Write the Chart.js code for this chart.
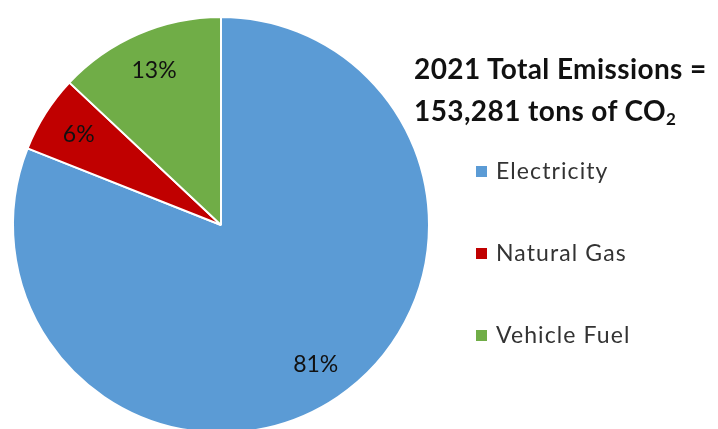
<!DOCTYPE html>
<html>
<head>
<meta charset="utf-8">
<script src="https://cdn.jsdelivr.net/npm/chart.js@4/dist/chart.umd.min.js"></script>
<style>
  html, body { margin: 0; padding: 0; background: #fff; overflow: hidden; }
  #wrap { position: relative; width: 718px; height: 429px; overflow: hidden; }
  #emissionsChart { position: absolute; left: 0; top: 0; }
  .title { position: absolute; left: 414px; top: 47px; font-family: Lato, sans-serif; font-weight: bold;
           font-size: 28px; line-height: 42px; letter-spacing: 0.4px; color: #111; white-space: nowrap; }
  .title sub { font-size: 17px; vertical-align: -4px; line-height: 0; }
  .legend { position: absolute; left: 476px; font-family: Lato, sans-serif; font-size: 23px; letter-spacing: 1.1px;
            color: #333; white-space: nowrap; }
  .legend span.box { display: inline-block; width: 11px; height: 11px; margin-right: 9px; vertical-align: 2px; }
</style>
</head>
<body>
<div id="wrap">
  <canvas id="emissionsChart" width="718" height="440"></canvas>
  <div class="title">2021 Total Emissions =<br>153,281 tons of CO<sub>2</sub></div>
</div>
<script>
// Share of 2021 emissions by source (percent)
const sources = ['Electricity', 'Natural Gas', 'Vehicle Fuel'];
const shares = [81, 6, 13];
const colors = ['#5B9BD5', '#C00000', '#70AD47'];
const legendY = [171, 253, 335];

// Percentage labels drawn inside each slice
const sliceLabels = {
  id: 'sliceLabels',
  afterDatasetsDraw(chart) {
    const { ctx } = chart;
    const meta = chart.getDatasetMeta(0);
    ctx.save();
    ctx.font = '23px Lato, sans-serif';
    ctx.fillStyle = '#111';
    ctx.textAlign = 'center';
    ctx.textBaseline = 'middle';
    meta.data.forEach((arc, i) => {
      const mid = (arc.startAngle + arc.endAngle) / 2;
      const r = arc.outerRadius * 0.81;
      ctx.fillText(shares[i] + '%', arc.x + Math.cos(mid) * r, arc.y + Math.sin(mid) * r);
    });
    ctx.restore();
  }
};

const ctx = document.getElementById('emissionsChart').getContext('2d');
new Chart(ctx, {
  type: 'pie',
  data: {
    labels: sources,
    datasets: [{
      data: shares,
      backgroundColor: colors,
      borderColor: '#fff',
      borderWidth: 2,
    }],
  },
  options: {
    responsive: false,
    animation: false,
    layout: { padding: { left: 12, top: 16, right: 288, bottom: 6 } },
    plugins: {
      legend: { display: false },
      tooltip: { enabled: false },
    },
  },
  plugins: [sliceLabels],
});

// Legend entries beside the pie
const wrap = document.getElementById('wrap');
sources.forEach((name, i) => {
  const item = document.createElement('div');
  item.className = 'legend';
  item.style.top = (legendY[i] - 15) + 'px';
  item.innerHTML = '<span class="box" style="background:' + colors[i] + '"></span>' + name;
  wrap.appendChild(item);
});
</script>
</body>
</html>
